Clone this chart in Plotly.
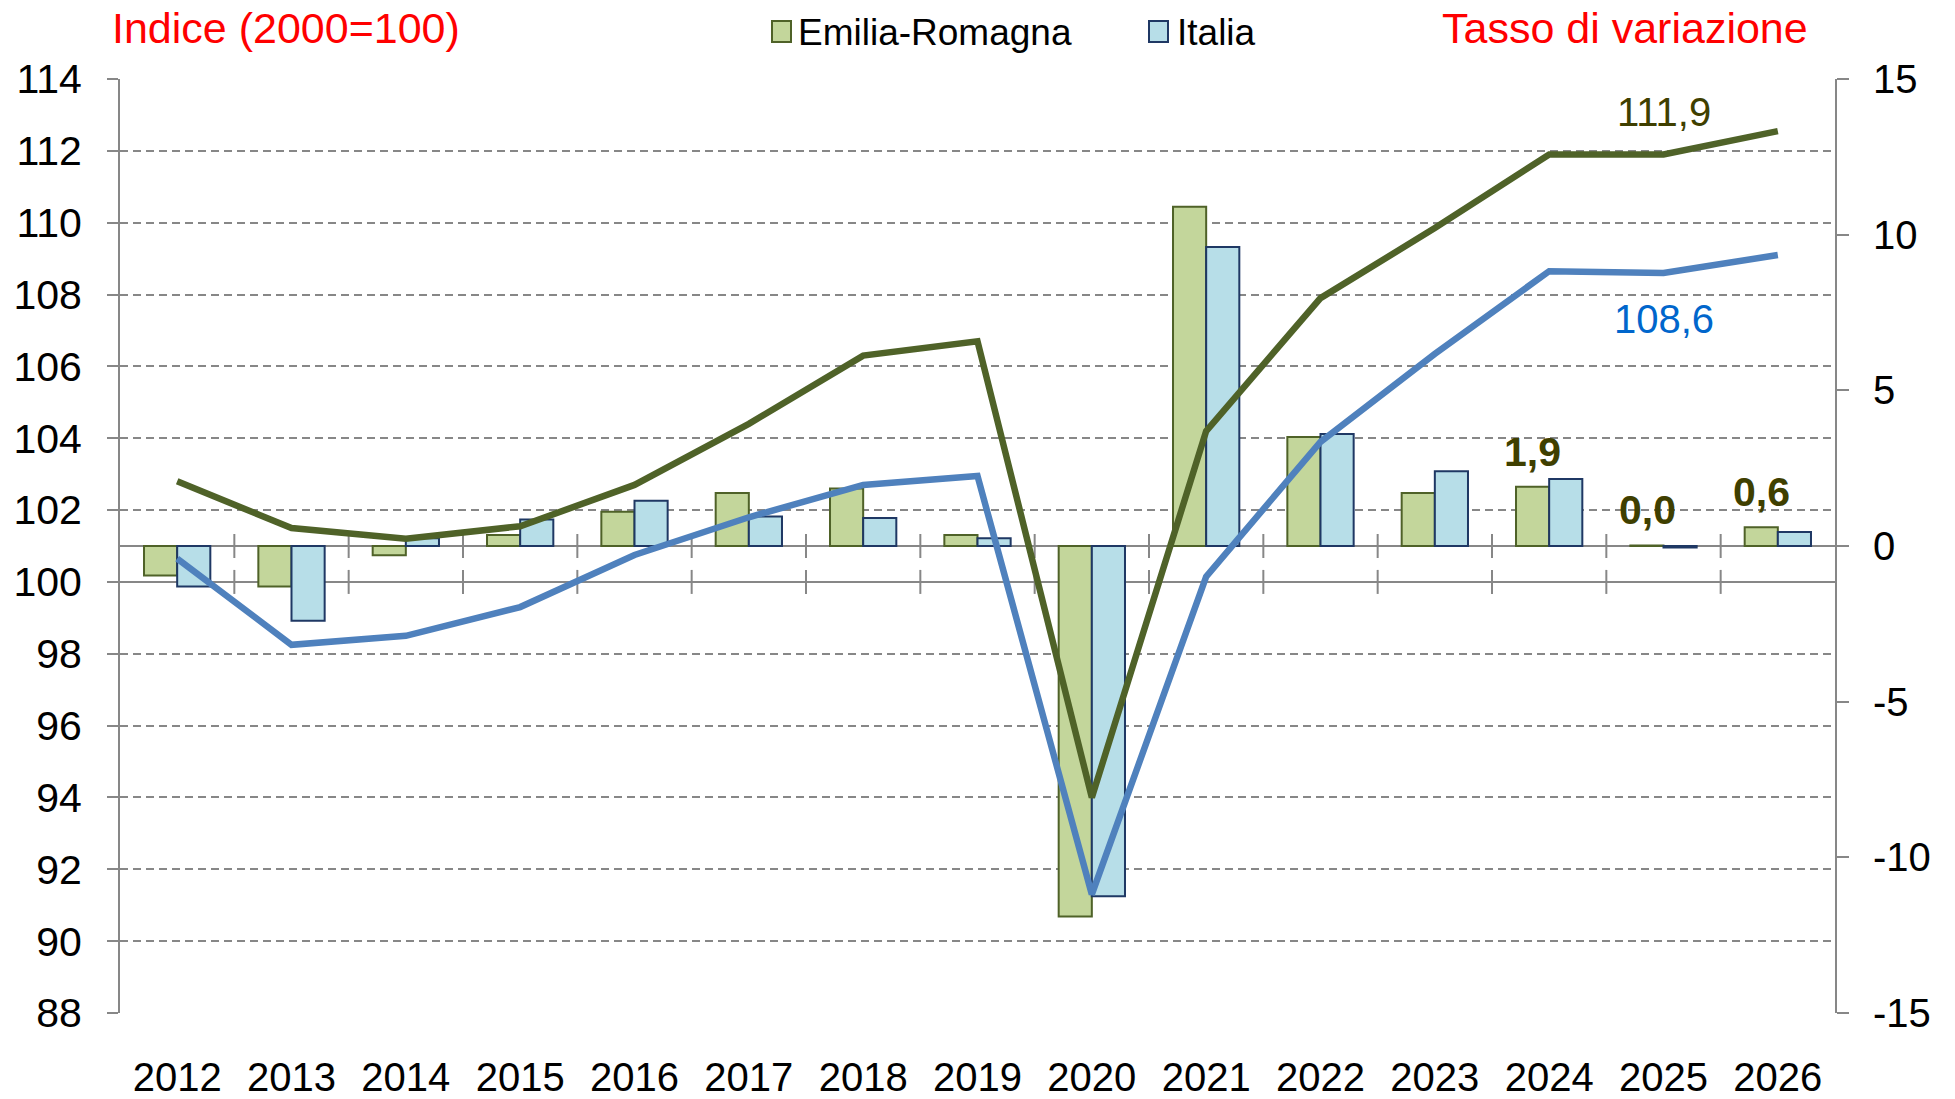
import plotly.graph_objects as go

# ---------------- data ----------------
years = ["2012", "2013", "2014", "2015", "2016", "2017", "2018", "2019",
         "2020", "2021", "2022", "2023", "2024", "2025", "2026"]
er_index = [102.8, 101.5, 101.2, 101.55, 102.7, 104.4, 106.3, 106.7,
            94.0, 104.2, 107.9, 109.85, 111.9, 111.9, 112.55]
it_index = [100.65, 98.25, 98.5, 99.3, 100.75, 101.8, 102.7, 102.95,
            91.3, 100.15, 103.9, 106.35, 108.65, 108.6, 109.1]
er_growth = [-0.95, -1.3, -0.3, 0.35, 1.1, 1.7, 1.85, 0.35,
             -11.9, 10.9, 3.5, 1.7, 1.9, 0.02, 0.6]
it_growth = [-1.3, -2.4, 0.25, 0.85, 1.45, 0.95, 0.9, 0.25,
             -11.25, 9.6, 3.6, 2.4, 2.15, -0.05, 0.45]
left_ticks = [88, 90, 92, 94, 96, 98, 100, 102, 104, 106, 108, 110, 112, 114]
right_ticks = [-15, -10, -5, 0, 5, 10, 15]
right_ticklabels = ["-15", "-10", "-5", "0", "5", "10", "15"]
series_names = ["Emilia-Romagna", "Italia"]
title_left = "Indice (2000=100)"
title_right = "Tasso di variazione"
labelled_growth_years = ["2024", "2025", "2026"]
labelled_index_year = "2025"

# ---------------- style ----------------
W, H = 1955, 1099
ML, MR, MT, MB = 120, 120, 79, 86
PW, PH = W - ML - MR, H - MT - MB
FONT = "Liberation Sans, Arial, sans-serif"
ER_FILL, ER_EDGE = "#C3D69B", "#4F6228"
IT_FILL, IT_EDGE = "#B7DEE8", "#1F3864"
ER_CURVE, IT_CURVE = "#4F6228", "#4F81BD"
GRID = "#878787"


def px(x):
    return (x - ML) / PW


def py(y):
    return (H - MB - y) / PH


def fmt(v):
    return f"{v:.1f}".replace(".", ",")


fig = go.Figure()
fig.add_bar(x=years, y=er_growth, name=series_names[0], yaxis="y",
            marker=dict(color=ER_FILL, line=dict(color=ER_EDGE, width=2)),
            showlegend=False)
fig.add_bar(x=years, y=it_growth, name=series_names[1], yaxis="y",
            marker=dict(color=IT_FILL, line=dict(color=IT_EDGE, width=2)),
            showlegend=False)
fig.add_scatter(x=years, y=er_index, mode="lines", yaxis="y2",
                line=dict(color=ER_CURVE, width=6.5), showlegend=False)
fig.add_scatter(x=years, y=it_index, mode="lines", yaxis="y2",
                line=dict(color=IT_CURVE, width=6.5), showlegend=False)

shapes = []
# axis crossing lines
shapes.append(dict(type="line", xref="paper", x0=0, x1=1, yref="y", y0=0, y1=0,
                   line=dict(color=GRID, width=2), layer="below"))
shapes.append(dict(type="line", xref="paper", x0=0, x1=1, yref="y2", y0=100, y1=100,
                   line=dict(color=GRID, width=2), layer="below"))
# cross tick marks at category boundaries on both crossing lines
for k in range(1, len(years)):
    for yr, anchor in (("y", 0), ("y2", 100)):
        shapes.append(dict(type="line", xref="x", x0=k - 0.5, x1=k - 0.5,
                           yref=yr, ysizemode="pixel", yanchor=anchor, y0=-12, y1=12,
                           line=dict(color=GRID, width=2), layer="below"))
# legend squares
shapes.append(dict(type="rect", xref="paper", yref="paper",
                   x0=px(772), x1=px(791), y0=py(42), y1=py(21),
                   fillcolor=ER_FILL, line=dict(color=ER_EDGE, width=2)))
shapes.append(dict(type="rect", xref="paper", yref="paper",
                   x0=px(1149), x1=px(1168), y0=py(42), y1=py(21),
                   fillcolor=IT_FILL, line=dict(color=IT_EDGE, width=2)))

ann = []
ann.append(dict(text=title_left, xref="paper", yref="paper", x=px(110), y=py(28),
                xanchor="left", yanchor="middle", showarrow=False,
                font=dict(family=FONT, size=43, color="#FF0000")))
ann.append(dict(text=title_right, xref="paper", yref="paper", x=px(1810), y=py(28),
                xanchor="right", yanchor="middle", showarrow=False,
                font=dict(family=FONT, size=43, color="#FF0000")))
ann.append(dict(text=series_names[0], xref="paper", yref="paper", x=px(796), y=py(32),
                xanchor="left", yanchor="middle", showarrow=False,
                font=dict(family=FONT, size=37, color="#000000")))
ann.append(dict(text=series_names[1], xref="paper", yref="paper", x=px(1175), y=py(32),
                xanchor="left", yanchor="middle", showarrow=False,
                font=dict(family=FONT, size=37, color="#000000")))
# bold growth labels above the Emilia-Romagna bars
for yv in labelled_growth_years:
    i = years.index(yv)
    ann.append(dict(text="<b>" + fmt(er_growth[i]) + "</b>", x=i, y=er_growth[i],
                    xref="x", yref="y", xshift=-16.5, yshift=35,
                    xanchor="center", yanchor="middle", showarrow=False,
                    font=dict(family=FONT, size=41, color="#3F3F00")))
i = years.index(labelled_index_year)
ann.append(dict(text=fmt(er_index[i]), x=i, y=er_index[i],
                xref="x", yref="y2", yshift=42, xanchor="center", yanchor="middle",
                showarrow=False, font=dict(family=FONT, size=40, color="#3F3F00")))
ann.append(dict(text=fmt(it_index[i]), x=i, y=it_index[i],
                xref="x", yref="y2", yshift=-46, xanchor="center", yanchor="middle",
                showarrow=False, font=dict(family=FONT, size=40, color="#0066CC")))

fig.update_layout(
    width=W, height=H,
    margin=dict(l=ML, r=MR, t=MT, b=MB, pad=0, autoexpand=False),
    paper_bgcolor="white", plot_bgcolor="white",
    barmode="group", bargap=0.42, bargroupgap=0,
    font=dict(family=FONT, color="#000000"),
    showlegend=False,
    shapes=shapes, annotations=ann,
    xaxis=dict(type="category", range=[-0.5, len(years) - 0.5], showline=False,
               ticks="", showgrid=False, zeroline=False, automargin=False,
               tickfont=dict(family=FONT, size=40), ticklabelstandoff=37),
    yaxis=dict(side="right", range=[-15, 15], tickvals=right_ticks,
               ticktext=right_ticklabels, ticks="outside", ticklen=12,
               tickwidth=2, tickcolor=GRID, showline=True, linecolor=GRID,
               linewidth=2, showgrid=False, zeroline=False, automargin=False,
               tickfont=dict(family=FONT, size=40), ticklabelstandoff=16),
    yaxis2=dict(overlaying="y", side="left", range=[88, 114], tickvals=left_ticks,
                ticks="outside", ticklen=11, tickwidth=2, tickcolor=GRID,
                showline=True, linecolor=GRID, linewidth=2, automargin=False,
                showgrid=True, gridcolor=GRID, gridwidth=2, griddash="8px,5px",
                zeroline=False, tickfont=dict(family=FONT, size=41),
                ticklabelstandoff=17),
    yaxis3=dict(overlaying="y", side="left", range=[88, 114], tickvals=left_ticks,
                ticks="inside", ticklen=11, tickwidth=2, tickcolor=GRID,
                showticklabels=False, showline=False, showgrid=False, zeroline=False),
    yaxis4=dict(overlaying="y", side="right", range=[-15, 15], tickvals=right_ticks,
                ticks="inside", ticklen=12, tickwidth=2, tickcolor=GRID,
                showticklabels=False, showline=False, showgrid=False, zeroline=False),
)

fig.write_html("out.html", config={"displayModeBar": False},
               post_script="document.body.style.margin='0';")
